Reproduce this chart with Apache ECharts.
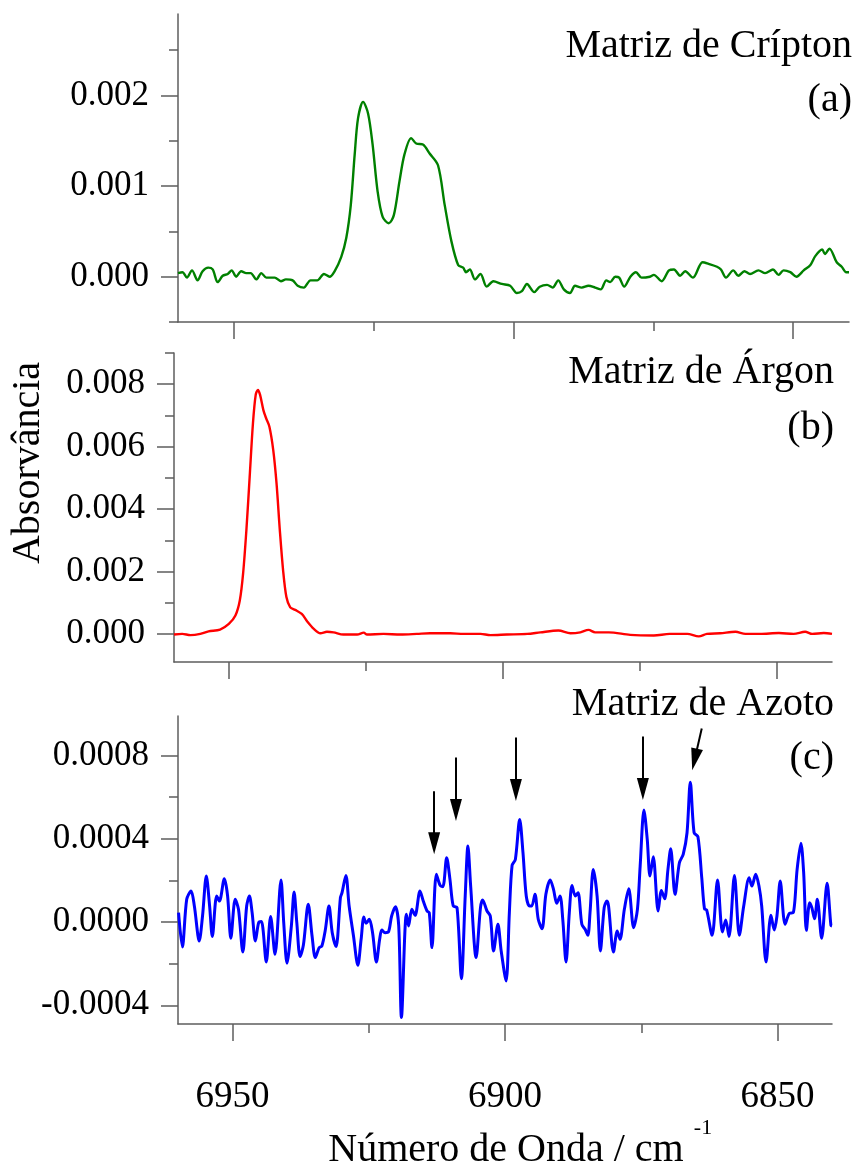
<!DOCTYPE html>
<html><head><meta charset="utf-8">
<script src="https://cdn.jsdelivr.net/npm/echarts@6.0.0/dist/echarts.min.js"></script>
<style>html,body{margin:0;padding:0;background:#fff}#c{width:857px;height:1173px}</style>
</head><body><div id="c"></div>
<script>
// ---------- DATA ----------
// (a) Matriz de Crípton
const kryptonX = [6960.0,6959.2,6958.4,6957.5,6956.5,6955.6,6954.6,6953.8,6952.9,6952.0,6951.1,6950.4,6949.6,6948.7,6947.8,6947.0,6946.0,6945.1,6944.2,6942.7,6941.6,6940.7,6939.5,6938.6,6937.5,6936.3,6935.1,6933.9,6932.9,6932.0,6930.8,6929.9,6929.1,6928.4,6927.8,6926.9,6926.0,6925.2,6924.3,6923.4,6922.3,6921.4,6920.4,6919.5,6918.3,6917.4,6916.2,6915.0,6913.5,6912.3,6911.1,6909.9,6909.0,6908.5,6907.8,6906.9,6905.9,6904.8,6903.6,6902.1,6900.6,6899.4,6898.5,6897.6,6896.3,6895.3,6894.0,6893.0,6892.0,6891.0,6889.9,6889.0,6887.8,6886.6,6885.4,6884.4,6883.4,6882.7,6881.8,6881.1,6880.2,6879.1,6878.1,6877.1,6875.6,6874.9,6873.5,6872.2,6871.3,6870.2,6869.3,6867.9,6866.2,6865.0,6863.6,6862.9,6862.0,6860.7,6859.8,6858.7,6857.7,6856.2,6855.0,6853.6,6852.6,6851.7,6850.5,6849.4,6848.1,6846.9,6846.0,6844.8,6844.3,6843.5,6842.2,6841.3,6840.5,6840.0];
const kryptonY = [0.00004,0.00005,-0.00001,0.00007,-0.00004,0.00006,0.0001,0.00008,-0.00006,0.00001,0.00003,0.00007,0.0,0.00006,0.00004,0.00004,-0.00003,0.00004,-0.00001,-0.00001,-0.00005,-0.00003,-0.00004,-0.0001,-0.00012,-0.00004,-0.00004,0.00003,0.0,0.00006,0.00022,0.00043,0.00079,0.00135,0.00175,0.00193,0.0018,0.00146,0.00094,0.00066,0.00059,0.00068,0.00105,0.00135,0.00153,0.00147,0.00146,0.00136,0.00123,0.00079,0.00039,0.00013,0.0001,0.00005,0.00008,-0.00003,0.00003,-0.00011,-0.00005,-0.00008,-0.0001,-0.00018,-0.00016,-0.00008,-0.00017,-0.00011,-0.00009,-0.00012,-0.00004,-0.00014,-0.00018,-0.0001,-0.00012,-0.0001,-0.00012,-0.00014,-0.00004,-0.00006,0.0,-0.00001,-0.00011,0.0,0.00005,-0.00001,0.0,0.00002,-0.00005,0.00007,0.00008,0.00001,0.00006,-0.00001,0.00016,0.00014,0.00011,0.00008,-0.00001,0.00007,0.00001,0.00006,0.00003,0.00007,0.00004,0.00008,0.00002,0.00007,0.00005,0.0,0.00007,0.00013,0.00023,0.0003,0.00025,0.00031,0.00016,0.00011,0.00005,0.00005];

// (b) Matriz de Árgon
const argonX = [6960.0,6958.5,6957.0,6955.2,6953.7,6951.6,6950.0,6948.8,6948.0,6947.4,6946.8,6946.2,6945.6,6945.1,6944.7,6944.3,6943.7,6943.2,6942.6,6941.9,6941.3,6940.7,6940.1,6939.5,6938.8,6937.9,6936.7,6935.7,6934.5,6933.3,6932.1,6930.9,6929.1,6926.6,6925.4,6924.8,6921.8,6918.7,6915.7,6913.3,6909.6,6907.2,6904.1,6902.3,6899.3,6895.6,6893.2,6889.9,6887.7,6885.9,6884.4,6883.2,6880.7,6876.8,6872.5,6869.6,6866.4,6864.3,6862.8,6860.4,6857.6,6855.8,6853.1,6849.7,6847.0,6844.9,6843.6,6841.5,6840.0];
const argonY = [-0.00002,0.0,-0.00004,0.0,0.00008,0.00014,0.00032,0.00059,0.00107,0.00193,0.00332,0.00503,0.00675,0.00766,0.00782,0.00766,0.00717,0.00691,0.00664,0.00589,0.00482,0.00332,0.00203,0.00118,0.00085,0.00077,0.00064,0.0004,0.00016,0.00002,0.00007,0.00005,-0.00002,-0.00002,0.00004,-0.00002,0.0,-0.00002,0.0,0.00002,0.00002,0.0,0.0,-0.00004,-0.00002,0.0,0.00005,0.00011,0.00002,0.00005,0.00013,0.00005,0.00005,-0.00003,-0.00005,0.0,0.0,-0.00008,0.0,0.00002,0.00007,0.0,0.0,0.00003,0.0,0.00007,0.0,0.00003,0.0];

// (c) Matriz de Azoto
const azotoX = [6959.9,6959.2,6958.4,6957.6,6957.0,6956.1,6955.5,6954.8,6954.2,6953.7,6952.9,6952.4,6951.5,6950.9,6950.3,6949.5,6948.9,6948.1,6947.4,6946.9,6946.4,6945.8,6945.2,6944.7,6944.4,6943.8,6943.0,6942.2,6941.1,6940.6,6940.0,6939.2,6938.7,6938.2,6937.6,6937.0,6936.1,6935.4,6934.8,6934.1,6933.6,6933.0,6932.3,6931.7,6931.0,6930.2,6929.9,6929.2,6928.6,6927.8,6927.0,6926.4,6925.9,6925.5,6924.9,6924.3,6923.6,6923.0,6922.6,6922.0,6921.4,6920.8,6920.1,6919.5,6919.0,6918.1,6917.7,6917.1,6916.5,6915.6,6915.0,6914.3,6913.9,6913.4,6912.6,6911.9,6911.4,6910.7,6910.1,6909.5,6908.8,6908.0,6907.3,6906.8,6906.3,6905.3,6904.5,6904.1,6903.3,6902.7,6902.1,6901.3,6900.7,6899.8,6899.2,6898.7,6898.1,6897.3,6896.7,6896.1,6895.5,6895.1,6894.5,6893.9,6893.2,6892.5,6891.7,6891.1,6890.5,6889.9,6889.4,6888.8,6888.2,6887.7,6887.1,6886.6,6885.9,6885.3,6884.8,6884.4,6883.8,6883.1,6882.5,6881.8,6881.3,6881.0,6880.1,6879.4,6878.9,6878.1,6877.3,6876.4,6875.7,6875.2,6874.5,6873.9,6873.4,6872.8,6871.9,6871.3,6870.7,6870.1,6869.6,6868.8,6868.0,6867.3,6866.6,6866.0,6865.3,6864.6,6863.9,6863.4,6863.0,6862.0,6861.0,6860.1,6859.5,6858.9,6857.9,6857.0,6856.2,6855.2,6854.7,6854.0,6853.4,6852.9,6852.1,6851.2,6850.6,6850.1,6849.5,6848.6,6847.8,6847.1,6846.4,6845.7,6845.2,6844.7,6844.1,6843.7,6843.2,6842.7,6841.9,6840.9,6840.2,6840.0];
const azotoY = [0.000045,-0.00012,0.000109,0.000149,0.000077,-0.000091,0.000029,0.000221,0.000077,-0.00007,0.000125,0.000101,0.000208,0.000125,-0.000078,0.000109,0.000061,-0.000144,0.000077,0.000125,0.000045,-0.000091,-0.000003,0.000002,-0.000035,-0.000192,0.000026,-0.000155,0.000202,-0.000003,-0.000198,-0.000019,0.000144,-0.000003,-0.000166,-0.000112,0.000085,-0.000067,-0.000171,-0.000123,-0.000115,-0.000043,0.000077,-0.000051,-0.000118,0.000117,0.000141,0.000224,0.000077,-0.000067,-0.000208,-0.000083,0.000024,-0.000006,0.000013,-0.000051,-0.000192,-0.000083,-0.000038,-0.000051,-0.000048,0.000029,0.000074,-0.000019,-0.000459,0.000037,-0.000019,0.000061,0.000032,0.000149,0.000101,0.000053,0.000045,-0.000123,0.000229,0.000176,0.00017,0.000309,0.000205,0.000077,0.000069,-0.000272,0.000125,0.000365,0.000173,-0.000171,0.000069,0.000106,0.000053,0.000029,-0.000139,-0.000011,-0.000139,-0.000283,0.000045,0.000272,0.000301,0.000493,0.000333,0.000125,0.000077,0.000077,0.000133,0.000013,-0.000032,0.000133,0.000202,0.000157,0.00009,0.000125,0.000013,-0.000192,0.000045,0.000176,0.000125,0.000141,-0.000011,-0.000035,-0.000064,0.000045,0.000253,0.000125,-0.000139,0.000069,0.000101,0.000077,-0.000144,-0.000043,-0.000083,0.000061,0.00016,-0.000027,0.000061,0.000269,0.000538,0.000397,0.000221,0.000314,0.000053,0.000152,0.000112,0.000253,0.000352,0.000133,0.000285,0.000325,0.000429,0.000672,0.000429,0.00041,0.000213,0.000064,0.000058,-0.000064,0.000202,-0.000048,0.00001,-0.00007,0.000224,-0.000064,0.000077,0.000213,0.000173,0.000229,0.000173,0.000077,-0.000192,0.000032,-0.000038,0.000029,0.000197,-0.000011,0.000042,0.000045,0.000253,0.000378,0.000237,-0.00004,0.000093,0.000069,0.000016,0.000109,-0.000078,0.000186,-0.000016,-0.000019];

// arrows in (c): [xStart, yStart, xHeadCentre, yHeadCentre]
const arrowsC = [
  [6913.0, 0.000629, 6913.0, 0.000378],
  [6909.0, 0.000791, 6909.0, 0.000538],
  [6898.0, 0.000887, 6898.0, 0.000634],
  [6874.7, 0.000892, 6874.7, 0.000639],
  [6863.9, 0.000930, 6865.2, 0.000781]
];

// tick values
const xMajorTicks = [6950, 6900, 6850];
const xMinorTicks = [6925, 6875];
const yMajorA = [0, 0.001, 0.002];
const yMinorA = [-0.0005, 0.0005, 0.0015, 0.0025];
const yMajorB = [0, 0.002, 0.004, 0.006, 0.008];
const yMinorB = [0.001, 0.003, 0.005, 0.007, 0.009];
const yMajorC = [-0.0004, 0, 0.0004, 0.0008];
const yMinorC = [-0.0002, 0.0002, 0.0006];

// ---------- CHART ----------
const FONT = "'Liberation Serif', 'DejaVu Serif', serif";
const AX = '#5e5e5e';
const chart = echarts.init(document.getElementById('c'), null, {renderer: 'canvas'});

function zip(xs, ys) { return xs.map((x, i) => [x, ys[i]]); }

function xAxis(gi, ticks, len, showLine, showLabel) {
  return {
    type: 'value', gridIndex: gi, min: 6840, max: 6960, inverse: true, position: 'bottom',
    axisLine: {show: showLine, onZero: false, lineStyle: {color: AX, width: 1.5}},
    axisTick: {show: true, inside: false, length: len, customValues: ticks, lineStyle: {color: AX, width: 1.5}},
    axisLabel: {show: showLabel, customValues: ticks, margin: 55, color: '#000',
      fontFamily: FONT, fontSize: 37, formatter: v => String(v)},
    splitLine: {show: false}
  };
}
function yAxis(gi, min, max, ticks, len, showLine, showLabel, digits) {
  return {
    type: 'value', gridIndex: gi, min: min, max: max, position: 'left',
    axisLine: {show: showLine, onZero: false, lineStyle: {color: AX, width: 1.5}},
    axisTick: {show: true, inside: false, length: len, customValues: ticks, lineStyle: {color: AX, width: 1.5}},
    axisLabel: {show: showLabel, customValues: ticks, margin: 29, color: '#000',
      fontFamily: FONT, fontSize: 35, formatter: v => v.toFixed(digits)},
    splitLine: {show: false}
  };
}

function textEl(x, y, txt, size, align, rot) {
  return {type: 'text', x: x, y: y, rotation: rot || 0,
    style: {text: txt, font: size + 'px ' + FONT, fill: '#000',
      align: align, textAlign: align, verticalAlign: 'middle', textVerticalAlign: 'middle'}};
}

const option = {
  animation: false,
  backgroundColor: '#fff',
  grid: [
    {left: 178, top: 14, width: 671, height: 308},
    {left: 174, top: 353, width: 658, height: 309},
    {left: 178, top: 716, width: 654, height: 308}
  ],
  xAxis: [
    xAxis(0, xMajorTicks, 17, true, false),
    xAxis(0, xMinorTicks, 9, false, false),
    xAxis(1, xMajorTicks, 17, true, false),
    xAxis(1, xMinorTicks, 9, false, false),
    xAxis(2, xMajorTicks, 17, true, true),
    xAxis(2, xMinorTicks, 9, false, false)
  ],
  yAxis: [
    yAxis(0, -0.0005, 0.0029, yMajorA, 17, true, true, 3),
    yAxis(0, -0.0005, 0.0029, yMinorA, 9, false, false, 3),
    yAxis(1, -0.0009, 0.009, yMajorB, 17, true, true, 3),
    yAxis(1, -0.0009, 0.009, yMinorB, 9, false, false, 3),
    yAxis(2, -0.00049, 0.00099, yMajorC, 17, true, true, 4),
    yAxis(2, -0.00049, 0.00099, yMinorC, 9, false, false, 4)
  ],
  series: [
    {type: 'line', xAxisIndex: 0, yAxisIndex: 0, data: zip(kryptonX, kryptonY), showSymbol: false,
     smooth: 0.3, lineStyle: {color: '#008000', width: 2.4}},
    {type: 'line', xAxisIndex: 2, yAxisIndex: 2, data: zip(argonX, argonY), showSymbol: false,
     smooth: 0.3, lineStyle: {color: '#ff0000', width: 2.4}},
    {type: 'line', xAxisIndex: 4, yAxisIndex: 4, data: zip(azotoX, azotoY), showSymbol: false,
     smooth: 0.3, lineStyle: {color: '#0000ff', width: 3}},
    {type: 'line', xAxisIndex: 4, yAxisIndex: 4, data: [], showSymbol: false, silent: true,
     markLine: {
       silent: true, animation: false, symbol: ['none', 'none'],
       lineStyle: {color: '#000', width: 2, type: 'solid', opacity: 1},
       label: {show: false}, emphasis: {disabled: true},
       data: arrowsC.map(a => [{coord: [a[0], a[1]]}, {coord: [a[2], a[3]]}])
     }},
    {type: 'scatter', xAxisIndex: 4, yAxisIndex: 4, symbol: 'triangle', symbolSize: [12, 22],
     silent: true, itemStyle: {color: '#000', opacity: 1}, z: 5, data: []}
  ],
  graphic: [
    textEl(852, 46, 'Matriz de Crípton', 40, 'right'),
    textEl(852, 100, '(a)', 40, 'right'),
    textEl(834, 372, 'Matriz de Árgon', 40, 'right'),
    textEl(834, 428, '(b)', 40, 'right'),
    textEl(834, 704, 'Matriz de Azoto', 40, 'right'),
    textEl(834, 758, '(c)', 40, 'right'),
    textEl(28, 463, 'Absorvância', 40, 'center', Math.PI / 2),
    textEl(506, 1150, 'Número de Onda / cm', 40, 'center'),
    textEl(703, 1128, '-1', 22, 'center')
  ]
};
chart.setOption(option);

// arrowheads: orient each triangle along its shaft (screen space)
const heads = arrowsC.map(a => {
  const p0 = chart.convertToPixel({xAxisIndex: 4, yAxisIndex: 4}, [a[0], a[1]]);
  const p1 = chart.convertToPixel({xAxisIndex: 4, yAxisIndex: 4}, [a[2], a[3]]);
  const dx = p1[0] - p0[0], dy = p1[1] - p0[1];
  const rot = Math.atan2(-dx, -dy) * 180 / Math.PI;
  return {value: [a[2], a[3]], symbolRotate: rot};
});
chart.setOption({series: [{}, {}, {}, {}, {data: heads}]});
</script>
</body></html>
